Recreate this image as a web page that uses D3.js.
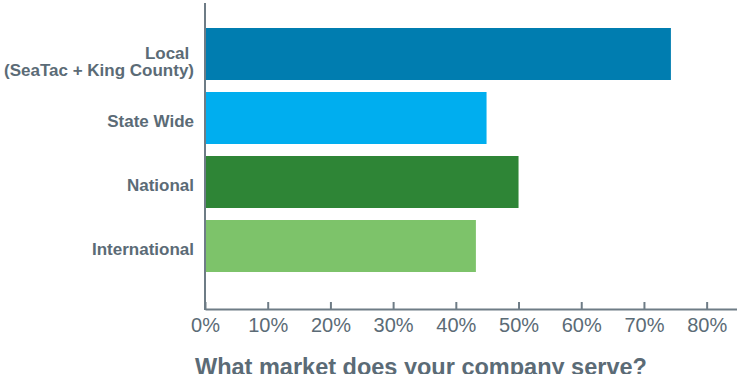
<!DOCTYPE html>
<html>
<head>
<meta charset="utf-8">
<script src="https://cdn.jsdelivr.net/npm/d3@7"></script>
<style>
body { margin: 0; background: #fff; }
text { font-family: "Liberation Sans", Arial, sans-serif; }
</style>
</head>
<body>
<script>
const categories = [["Local ", "(SeaTac + King County)"], ["State Wide"], ["National"], ["International"]];
const values = [74.3, 44.9, 50.0, 43.2];
const colors = ["#007db0", "#00aeef", "#2e8536", "#7dc36a"];
const xTicks = [0, 10, 20, 30, 40, 50, 60, 70, 80];
const title = "What market does your company serve?";

const W = 737, H = 374;
const textCol = "#5b6b76", axisCol = "#6e7c86";

const svg = d3.select("body").append("svg")
  .attr("width", W).attr("height", H);

const x = d3.scaleLinear().domain([0, 85]).range([205, 738]);
const y = d3.scaleBand().domain(d3.range(categories.length))
  .range([22, 278]).paddingInner(0.1875).paddingOuter(0.09375);

// bars
svg.selectAll("rect.bar").data(values).join("rect")
  .attr("class", "bar")
  .attr("x", x(0))
  .attr("y", (d, i) => y(i))
  .attr("width", d => x(d) - x(0))
  .attr("height", y.bandwidth())
  .attr("fill", (d, i) => colors[i]);

// x axis
const xAxis = svg.append("g")
  .attr("transform", "translate(0,309)")
  .call(d3.axisBottom(x).tickValues(xTicks).tickSize(-7).tickSizeOuter(0).tickFormat(d => d + "%"));
xAxis.select(".domain").attr("stroke", axisCol).attr("stroke-width", 2);
xAxis.selectAll(".tick line").attr("stroke", axisCol).attr("stroke-width", 2);
xAxis.selectAll(".tick text")
  .attr("fill", textCol).attr("font-size", 20).attr("y", 9).attr("dy", "0.71em");

// y axis line
svg.append("line")
  .attr("x1", x(0)).attr("x2", x(0))
  .attr("y1", 3).attr("y2", 310)
  .attr("stroke", axisCol).attr("stroke-width", 2);

// category labels
const lab = svg.selectAll("text.cat").data(categories).join("text")
  .attr("class", "cat")
  .attr("text-anchor", "end")
  .attr("fill", textCol)
  .attr("font-size", 17)
  .attr("font-weight", "bold")
  .style("white-space", "pre");
lab.each(function(lines, i) {
  const cy = y(i) + y.bandwidth() / 2;
  const t = d3.select(this);
  const base = lines.length > 1 ? cy + 4.7 : cy + 9;
  lines.forEach((s, k) => {
    t.append("tspan")
      .attr("x", 194)
      .attr("y", base + k * 17.5)
      .text(s);
  });
});

// title
svg.append("text")
  .attr("x", 195).attr("y", 375)
  .attr("fill", textCol)
  .attr("font-size", 23.5)
  .attr("font-weight", "bold")
  .text(title);
</script>
</body>
</html>
